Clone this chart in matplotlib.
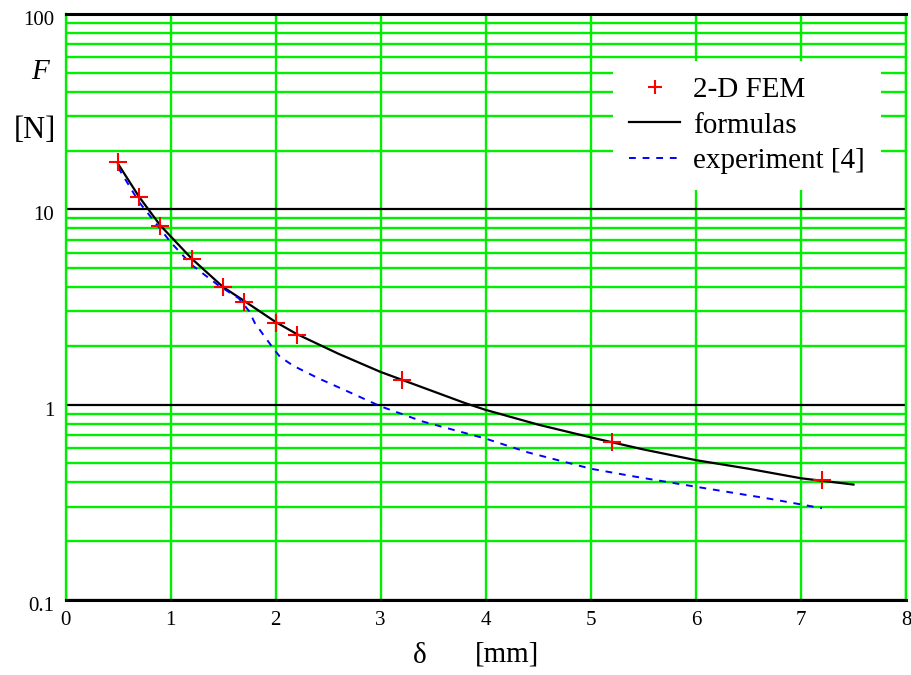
import matplotlib
matplotlib.use("Agg")
import matplotlib.pyplot as plt
import matplotlib.transforms as mtransforms
import numpy as np

# FEM data
fem_x = [0.5, 0.7, 0.9, 1.2, 1.5, 1.7, 2.0, 2.2, 3.2, 5.2, 7.2]
fem_F = [17.4, 11.5, 8.2, 5.55, 4.0, 3.36, 2.63, 2.27, 1.34, 0.643, 0.41]

# formulas curve
form_x = [0.5, 0.7, 0.9, 1.2, 1.5, 1.7, 2.0, 2.2, 2.6, 3.0, 3.5, 3.8, 4.0, 4.5,
          5.0, 5.5, 6.0, 6.5, 7.0, 7.5]
form_F = [17.1, 11.6, 8.3, 5.6, 4.0, 3.4, 2.65, 2.3, 1.82, 1.47, 1.17, 1.02, 0.94,
          0.79, 0.68, 0.59, 0.52, 0.47, 0.42, 0.39]

# experiment curve
exp_x = [0.5, 0.7, 1.0, 1.2, 1.45, 1.65, 1.75, 1.8, 1.88, 1.96, 2.04, 2.17, 2.4,
         2.7, 3.0, 3.4, 4.0, 4.4, 5.0, 5.4, 6.0, 6.7, 7.2]
exp_F = [16.4, 10.9, 6.8, 5.2, 4.1, 3.5, 3.0, 2.63, 2.29, 2.0, 1.76, 1.58, 1.37,
         1.16, 0.98, 0.82, 0.67, 0.57, 0.47, 0.43, 0.38, 0.33, 0.295]

x_ticks = [0, 1, 2, 3, 4, 5, 6, 7, 8]
y_ticks = [0.1, 1, 10, 100]
y_tick_labels = ["0.1", "1", "10", "100"]

plt.rcParams['font.family'] = ['Liberation Serif', 'DejaVu Serif']

fig = plt.figure(figsize=(9.12, 6.75), dpi=100)
W, H = 912, 675
L, R, T, B = 65.5, 906, 14, 600
ax = fig.add_axes([L / W, 1 - B / H, (R - L) / W, (B - T) / H])

ax.set_xlim(0, 8)
ax.set_yscale('log')
ax.set_ylim(0.1, 100)

green = '#00ee00'
# grid lines
for xv in x_ticks:
    ax.axvline(xv, color=green, lw=1.7, zorder=1)
for dec in [0.1, 1, 10]:
    for m in range(2, 10):
        ax.axhline(dec * m, color=green, lw=1.7, zorder=1)
for dv in y_ticks:
    ax.axhline(dv, color='black', lw=1.6, zorder=2)

for s in ['left', 'right']:
    ax.spines[s].set_color(green)
    ax.spines[s].set_linewidth(1.7)
for s in ['top', 'bottom']:
    ax.spines[s].set_color('black')
    ax.spines[s].set_linewidth(2.2)

ax.plot(form_x, form_F, color='black', lw=1.6, zorder=4, label='formulas')
ax.plot(exp_x, exp_F, color='#0000ff', lw=1.4, ls=(0, (3.5, 3.5)), zorder=4,
        label='experiment [4]')
ax.plot(fem_x, fem_F, ls='none', marker='+', ms=13, mew=1.5, color='red',
        zorder=5, label='2-D FEM')

ax.set_xticks(x_ticks)
ax.set_xticklabels([str(v) for v in x_ticks])
ax.set_yticks(y_ticks)
ax.set_yticklabels(y_tick_labels)
ax.yaxis.set_minor_locator(matplotlib.ticker.NullLocator())
ax.tick_params(axis='both', length=0, labelsize=15)
ax.tick_params(axis='x', pad=8)
ax.tick_params(axis='y', pad=8)
shift = mtransforms.ScaledTranslation(0, -4 / 100, fig.dpi_scale_trans)
for lab in ax.get_yticklabels():
    lab.set_transform(lab.get_transform() + shift)

handles, labels = ax.get_legend_handles_labels()
order = [2, 0, 1]
leg = ax.legend([handles[i] for i in order], [labels[i] for i in order],
                loc='upper left',
                bbox_to_anchor=((613 - L) / (R - L), 1 - (61 - T) / (B - T)),
                borderaxespad=0,
                frameon=True, fancybox=False, framealpha=1, facecolor='white',
                edgecolor='white', fontsize=21, handlelength=1.75,
                handletextpad=0.45, labelspacing=0.3, borderpad=0.55)
leg.get_frame().set_linewidth(0)
leg.set_zorder(3)
for h in leg.legend_handles:
    if h.get_marker() == '+':
        h.set_markersize(10)

fig.text(40 / W, 1 - 72 / H, 'F', fontsize=21, style='italic', ha='center', va='center')
fig.text(35 / W, 1 - 130 / H, '[N]', fontsize=22, ha='center', va='center')
fig.text(420 / W, 1 - 656 / H, 'δ', fontsize=21, ha='center', va='center')
fig.text(507 / W, 1 - 655 / H, '[mm]', fontsize=21, ha='center', va='center')

fig.savefig('out.png', dpi=100)
